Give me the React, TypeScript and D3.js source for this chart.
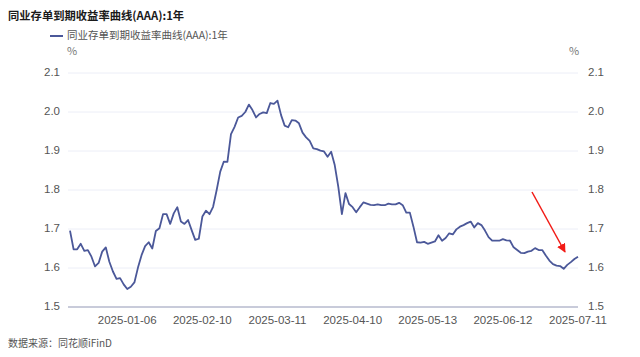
import React from "react";
import * as d3 from "d3";

const seriesName = "同业存单到期收益率曲线(AAA):1年";
const values: number[] = [
  1.696, 1.648, 1.648, 1.662, 1.644, 1.646, 1.629, 1.604, 1.613, 1.642,
  1.653, 1.616, 1.591, 1.572, 1.574, 1.558, 1.546, 1.552, 1.563, 1.601,
  1.633, 1.656, 1.666, 1.650, 1.695, 1.702, 1.738, 1.738, 1.713, 1.740,
  1.756, 1.719, 1.713, 1.723, 1.697, 1.672, 1.675, 1.732, 1.747, 1.738,
  1.757, 1.800, 1.847, 1.873, 1.872, 1.943, 1.962, 1.986, 1.990, 2.000,
  2.019, 2.005, 1.986, 1.995, 1.999, 1.997, 2.023, 2.021, 2.029, 1.992,
  1.965, 1.961, 1.979, 1.978, 1.971, 1.947, 1.935, 1.926, 1.907, 1.905,
  1.901, 1.899, 1.885, 1.898, 1.864, 1.808, 1.738, 1.792, 1.764, 1.756,
  1.743, 1.756, 1.768, 1.765, 1.762, 1.761, 1.763, 1.761, 1.761, 1.765,
  1.763, 1.763, 1.767, 1.761, 1.742, 1.742, 1.706, 1.666, 1.665, 1.667,
  1.662, 1.665, 1.668, 1.684, 1.670, 1.677, 1.689, 1.686, 1.699, 1.706,
  1.710, 1.715, 1.719, 1.704, 1.715, 1.710, 1.696, 1.679, 1.670, 1.670,
  1.670, 1.674, 1.671, 1.670, 1.653, 1.646, 1.639, 1.638, 1.642, 1.644,
  1.651, 1.646, 1.646, 1.632, 1.619, 1.610, 1.606, 1.605, 1.598, 1.608,
  1.615, 1.623, 1.629,
];
const tickLabels = ["2025-01-06", "2025-02-10", "2025-03-11", "2025-04-10", "2025-05-13", "2025-06-12", "2025-07-11"];
const tickIndex = [16, 37, 58, 79, 100, 121, 142];
const yTicks = [1.5, 1.6, 1.7, 1.8, 1.9, 2.0, 2.1];

const FONT = "'Noto Sans CJK SC', 'Noto Sans', sans-serif";
const NUMFONT = "'Liberation Sans', 'Noto Sans', sans-serif";
const LINE = "#4b5899";

export default function App() {
  const W = 640, H = 357;
  const left = 68, right = 578;
  const x = d3.scaleLinear().domain([0, values.length - 1]).range([70, 578]);
  const y = d3.scaleLinear().domain([1.5, 2.1]).range([307, 73]);
  const line = d3.line<number>().x((_, i) => x(i)).y((d) => y(d));
  const fmt = d3.format(".1f");

  return (
    <svg width={W} height={H} style={{ position: "absolute", left: 0, top: 0, background: "#fff" }} fontFamily={FONT}>
      <defs>
        <marker id="ah" viewBox="0 0 10 10" refX="9" refY="5" markerWidth="6" markerHeight="6" orient="auto">
          <path d="M0,0 L10,5 L0,10 z" fill="#f21b16" />
        </marker>
      </defs>
      <text x={8} y={20} fontSize={11.3} fontWeight="bold" fill="#1a1a1a">{seriesName}</text>
      <line x1={50} x2={63} y1={36} y2={36} stroke={LINE} strokeWidth={2} />
      <text x={67} y={36} fontSize={10.5} fill="#555" dominantBaseline="middle">{seriesName}</text>
      <text x={72} y={52} fontSize={11} fill="#777" textAnchor="middle" dominantBaseline="middle">%</text>
      <text x={574} y={52} fontSize={11} fill="#777" textAnchor="middle" dominantBaseline="middle">%</text>
      {yTicks.map((t) => (
        <g key={t}>
          {t !== 1.5 && <line x1={left} x2={right} y1={y(t)} y2={y(t)} stroke="#eceef7" strokeWidth={1} />}
          <text x={60} y={y(t)} fontSize={11.5} fontFamily={NUMFONT} fill="#555" textAnchor="end" dominantBaseline="middle">{fmt(t)}</text>
          <text x={588} y={y(t)} fontSize={11.5} fontFamily={NUMFONT} fill="#555" textAnchor="start" dominantBaseline="middle">{fmt(t)}</text>
        </g>
      ))}
      <line x1={left} x2={right} y1={y(1.5)} y2={y(1.5)} stroke="#9297b5" strokeWidth={1} />
      {tickIndex.map((ti, k) => (
        <text key={ti} x={x(ti)} y={321} fontSize={11.5} fontFamily={NUMFONT} fill="#555" textAnchor="middle" dominantBaseline="middle">{tickLabels[k]}</text>
      ))}
      <path d={line(values) || ""} fill="none" stroke={LINE} strokeWidth={1.8} strokeLinejoin="round" />
      <line x1={532} y1={192} x2={565} y2={252} stroke="#f21b16" strokeWidth={1.5} markerEnd="url(#ah)" />
      <text x={8} y={344} fontSize={10} fill="#555" dominantBaseline="middle">数据来源：同花顺iFinD</text>
    </svg>
  );
}
